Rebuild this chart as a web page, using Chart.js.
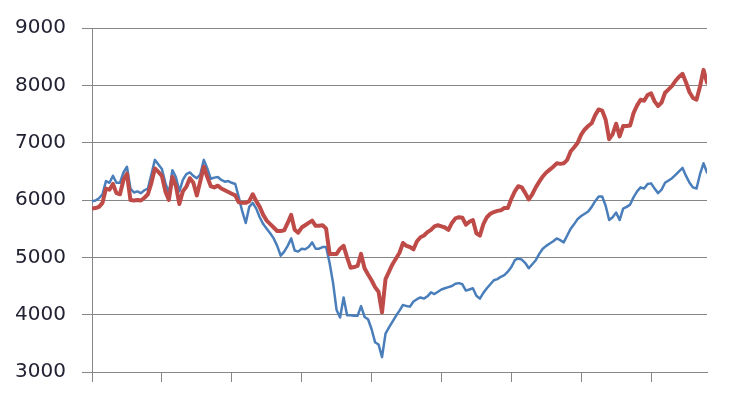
<!DOCTYPE html>
<html>
<head>
<meta charset="utf-8">
<script src="https://cdn.jsdelivr.net/npm/chart.js@4"></script>
<style>
    html, body { margin: 0; padding: 0; background: #ffffff; }
    #wrap { width: 731px; height: 402px; }
</style>
</head>
<body>
<div id="wrap"><canvas id="chart"></canvas></div>
<script>
// Values, one per period
const blueValues = [
    5980, 5990, 6030, 6100, 6330, 6300, 6420, 6300, 6300, 6480,
    6580, 6200, 6130, 6150, 6120, 6170, 6200, 6450, 6700, 6620,
    6540, 6300, 6120, 6520, 6400, 6150, 6350, 6450, 6480, 6420,
    6380, 6450, 6700, 6550, 6370, 6390, 6400, 6350, 6320, 6330,
    6300, 6280, 6050, 5800, 5600, 5880, 5950, 5850, 5700, 5580,
    5500, 5420, 5330, 5200, 5030, 5100, 5200, 5330, 5120, 5100,
    5150, 5140, 5180, 5260, 5150, 5150, 5180, 5180, 4900, 4550,
    4080, 3950, 4300, 3990, 3990, 3980, 3980, 4150, 3960, 3920,
    3750, 3520, 3480, 3260, 3670, 3780, 3880, 3980, 4070, 4170,
    4150, 4140, 4230, 4270, 4300, 4280, 4320, 4390, 4360, 4400,
    4440, 4460, 4480, 4500, 4540, 4550, 4530, 4420, 4440, 4460,
    4330, 4280, 4380, 4460, 4530, 4600, 4620, 4660, 4690, 4750,
    4830, 4950, 4980, 4960, 4900, 4810, 4880, 4950, 5060, 5150,
    5200, 5240, 5280, 5330, 5300, 5260, 5380, 5500, 5580, 5670,
    5720, 5760, 5800, 5880, 5980, 6060, 6060, 5900, 5650, 5700,
    5780, 5650, 5850, 5880, 5920, 6050, 6150, 6220, 6200, 6280,
    6290, 6200, 6120, 6180, 6300, 6340, 6380, 6440, 6500, 6560,
    6420, 6300, 6220, 6200, 6450, 6640, 6480
];
const redValues = [
    5850, 5860, 5880, 5950, 6200, 6180, 6280, 6120, 6100, 6350,
    6460, 6000, 5990, 6000, 5990, 6040, 6100, 6300, 6550, 6490,
    6420, 6150, 6000, 6400, 6250, 5930, 6150, 6230, 6380, 6300,
    6080, 6330, 6580, 6400, 6240, 6220, 6250, 6200, 6170, 6140,
    6110, 6080, 5960, 5950, 5950, 5980, 6100, 5980, 5880, 5740,
    5640, 5580, 5520, 5460, 5460, 5470, 5600, 5740, 5480, 5430,
    5520, 5560, 5600, 5640, 5550, 5550, 5560, 5500, 5060, 5060,
    5060, 5150, 5200, 5000, 4820, 4830, 4850, 5060, 4810, 4700,
    4600, 4480, 4400, 4040, 4620, 4750, 4880, 4980, 5080, 5250,
    5200, 5180, 5140, 5280, 5350, 5380, 5440, 5480, 5540, 5560,
    5540, 5520, 5480, 5600, 5680, 5700, 5690, 5570, 5620, 5650,
    5420, 5380, 5580, 5700, 5760, 5790, 5810, 5820, 5860, 5860,
    6020, 6150, 6240, 6220, 6120, 6010, 6100, 6220, 6320, 6410,
    6480, 6530, 6580, 6640, 6630, 6640, 6700, 6850, 6920, 7000,
    7140, 7230, 7290, 7340, 7480, 7580, 7560, 7400, 7060, 7150,
    7330, 7110, 7290, 7290, 7300, 7520, 7650, 7750, 7730, 7830,
    7860, 7720, 7640, 7700, 7870, 7930, 7990, 8080, 8150, 8200,
    8050, 7880, 7780, 7750, 7980, 8270, 8050
];
// Y axis range and step, tick mark every 20 periods on the x axis
const yMin = 3000;
const yMax = 9000;
const yStep = 1000;
const xTickEvery = 20;

document.addEventListener('DOMContentLoaded', function() {
    const ctx = document.getElementById('chart');
    const axisGrey = '#868686';

    // Turn value arrays into {x, y} points using the index as x
    function toPoints(values) {
        return values.map((v, i) => ({ x: i, y: v }));
    }

    new Chart(ctx, {
        type: 'line',
        data: {
            datasets: [
                {
                    label: 'Series 2',
                    data: toPoints(redValues),
                    borderColor: '#BE4B48',
                    borderWidth: 4,
                    order: 0
                },
                {
                    label: 'Series 1',
                    data: toPoints(blueValues),
                    borderColor: '#4A7EBB',
                    borderWidth: 2.5,
                    order: 1
                }
            ]
        },
        options: {
            responsive: true,
            maintainAspectRatio: false,
            animation: false,
            layout: { padding: { top: 26, right: 24, left: 0, bottom: 0 } },
            elements: {
                point: { radius: 0 },
                line: { tension: 0, borderJoinStyle: 'round', borderCapStyle: 'round' }
            },
            plugins: {
                legend: { display: false },
                tooltip: { enabled: false }
            },
            scales: {
                x: {
                    type: 'linear',
                    min: 0,
                    max: blueValues.length - 1,
                    ticks: { display: false, stepSize: xTickEvery },
                    afterBuildTicks: function(axis) {
                        axis.ticks = axis.ticks.filter(t => t.value % xTickEvery === 0);
                    },
                    afterFit: function(axis) { axis.height = 30; },
                    grid: {
                        drawOnChartArea: false,
                        drawTicks: true,
                        tickLength: 10,
                        color: axisGrey,
                        lineWidth: 1
                    },
                    border: { display: true, color: axisGrey, width: 1 }
                },
                y: {
                    min: yMin,
                    max: yMax,
                    ticks: {
                        stepSize: yStep,
                        padding: 16,
                        color: '#222233',
                        font: { family: 'DejaVu Sans', size: 20 },
                        // plain numbers, no thousands separator
                        callback: value => String(value)
                    },
                    afterFit: function(axis) { axis.width = 92; },
                    grid: {
                        color: axisGrey,
                        lineWidth: 1,
                        tickLength: 10
                    },
                    border: { display: true, color: axisGrey, width: 1 }
                }
            }
        }
    });
});
</script>
</body>
</html>
